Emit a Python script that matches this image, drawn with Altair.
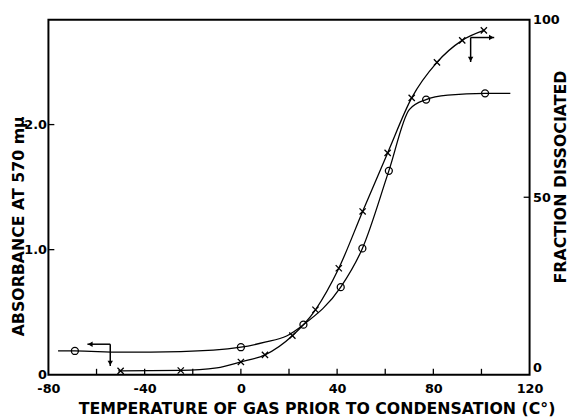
import altair as alt
import pandas as pd

# ---- data ----
circle_temp = [-69, 0, 26, 41.5, 50.5, 61.5, 77, 101.5]
circle_abs = [0.19, 0.22, 0.40, 0.70, 1.01, 1.63, 2.20, 2.25]

abs_curve_temp = [-76, -69, -50, -25, 0, 10, 19, 26, 41.5, 50.5, 61.5, 70, 77, 86, 101.5, 112]
abs_curve_val = [0.19, 0.19, 0.18, 0.185, 0.22, 0.26, 0.31, 0.40, 0.70, 1.01, 1.63, 2.12, 2.20, 2.235, 2.25, 2.25]

cross_temp = [-50, -25, 0, 10, 21.4, 31, 40.7, 50.6, 61, 71, 81.5, 92, 101]
cross_frac = [1.1, 1.2, 3.6, 5.6, 11, 18.3, 30, 46, 62.5, 78, 88, 94.2, 97]

frac_curve_temp = [-51, -50, -25, -10, 0, 10, 21.4, 31, 40.7, 50.6, 61, 71, 81.5, 92, 101]
frac_curve_val = [1.1, 1.1, 1.2, 1.9, 3.6, 5.6, 11, 18.3, 30, 46, 62.5, 78, 88, 94.2, 97]

# arrow indicators (segment start/end) and heads
abs_arrow_x = [-54.3, -54.3]
abs_arrow_y = [0.244, 0.244]
abs_arrow_x2 = [-63.8, -54.3]
abs_arrow_y2 = [0.244, 0.07]
abs_head_x = [-62.6, -54.3]
abs_head_y = [0.244, 0.094]
abs_head_shape = ["triangle-left", "triangle-down"]

frac_arrow_x = [95.5, 95.5]
frac_arrow_y = [95, 95]
frac_arrow_x2 = [105.3, 95.5]
frac_arrow_y2 = [95, 88.1]
frac_head_x = [104.1, 95.5]
frac_head_y = [95, 88.9]
frac_head_shape = ["triangle-right", "triangle-down"]

x_tick_vals = [-60, -40, -20, 0, 20, 40, 60, 80, 100]
x_label_vals = [-80, -40, 0, 40, 80, 120]
left_tick_vals = [1.0, 2.0]
left_label_vals = [0, 1, 2]
right_tick_vals = [50]
right_label_vals = [0, 50, 100]

FONT = "DejaVu Sans"

circ_df = pd.DataFrame({"t": circle_temp, "v": circle_abs})
abs_curve_df = pd.DataFrame({"t": abs_curve_temp, "v": abs_curve_val})
cross_df = pd.DataFrame({"t": cross_temp, "v": cross_frac})
frac_curve_df = pd.DataFrame({"t": frac_curve_temp, "v": frac_curve_val})
abs_arrow_df = pd.DataFrame({"t": abs_arrow_x, "v": abs_arrow_y, "t2": abs_arrow_x2, "v2": abs_arrow_y2})
abs_head_df = pd.DataFrame({"t": abs_head_x, "v": abs_head_y, "s": abs_head_shape})
frac_arrow_df = pd.DataFrame({"t": frac_arrow_x, "v": frac_arrow_y, "t2": frac_arrow_x2, "v2": frac_arrow_y2})
frac_head_df = pd.DataFrame({"t": frac_head_x, "v": frac_head_y, "s": frac_head_shape})
xtick_df = pd.DataFrame({"t": x_tick_vals})
ltick_df = pd.DataFrame({"v": left_tick_vals})
rtick_df = pd.DataFrame({"v": right_tick_vals})

xscale = alt.Scale(domain=[-80, 120], nice=False, zero=False)
lscale = alt.Scale(domain=[0, 2.838], nice=False, zero=False)
rscale = alt.Scale(domain=[0, 100], nice=False, zero=False)

x_axis = alt.Axis(
    values=x_label_vals,
    labelExpr="'' + datum.value",
    ticks=False, domain=False, grid=False,
    labelFont=FONT, labelFontSize=13, labelFontWeight="bold", labelColor="black",
    labelPadding=8, labelFlush=False, labelOverlap=False,
    title="TEMPERATURE OF GAS PRIOR TO CONDENSATION (C°)",
    titleFont=FONT, titleFontSize=16, titleFontWeight="bold", titleColor="black",
    titleX=272, titleY=39, titleAlign="center", titleBaseline="alphabetic",
)
l_axis = alt.Axis(
    values=left_label_vals,
    labelExpr="datum.value == 0 ? '0' : format(datum.value, '.1f')",
    ticks=False, domain=False, grid=False,
    labelFont=FONT, labelFontSize=13, labelFontWeight="bold", labelColor="black",
    labelPadding=2, labelFlush=False, labelOverlap=False,
    title="ABSORBANCE AT 570 mμ",
    titleFont=FONT, titleFontSize=16, titleFontWeight="bold", titleColor="black",
    titleAngle=270, titleX=-25, titleY=209, titleAlign="center", titleBaseline="alphabetic",
)
r_axis = alt.Axis(
    orient="right",
    values=right_label_vals,
    ticks=False, domain=False, grid=False,
    labelFont=FONT, labelFontSize=13, labelFontWeight="bold", labelColor="black",
    labelPadding=3, labelFlush=False, labelOverlap=False,
    labelBaseline={"condition": {"test": "datum.value == 0", "value": "bottom"}, "value": "middle"},
    title="FRACTION DISSOCIATED",
    titleFont=FONT, titleFontSize=16, titleFontWeight="bold", titleColor="black",
    titleAngle=270, titleX=36, titleY=159, titleAlign="center", titleBaseline="alphabetic",
)

# ---- left (absorbance) group ----
abs_line = alt.Chart(abs_curve_df).mark_line(interpolate="monotone", color="black", strokeWidth=1.3).encode(
    x=alt.X("t:Q", scale=xscale, axis=x_axis),
    y=alt.Y("v:Q", scale=lscale, axis=l_axis),
)
abs_pts = alt.Chart(circ_df).mark_point(shape="circle", filled=False, color="black", size=50, strokeWidth=1.3, opacity=1).encode(
    x="t:Q", y="v:Q"
)
abs_arrows = alt.Chart(abs_arrow_df).mark_rule(color="black", strokeWidth=1.5).encode(
    x="t:Q", y="v:Q", x2="t2:Q", y2="v2:Q"
)
abs_heads = alt.Chart(abs_head_df).mark_point(filled=True, color="black", size=30, opacity=1).encode(
    x="t:Q", y="v:Q",
    shape=alt.Shape("s:N", scale=None, legend=None),
)
x_ticks = alt.Chart(xtick_df).mark_rule(color="black", strokeWidth=1.3).encode(
    x="t:Q", y=alt.value(360), y2=alt.value(354)
)
l_ticks = alt.Chart(ltick_df).mark_rule(color="black", strokeWidth=1.3).encode(
    y="v:Q", x=alt.value(0), x2=alt.value(6)
)
left = alt.layer(abs_line, abs_pts, abs_arrows, abs_heads, x_ticks, l_ticks)

# ---- right (fraction) group ----
frac_line = alt.Chart(frac_curve_df).mark_line(interpolate="monotone", color="black", strokeWidth=1.3).encode(
    x="t:Q", y=alt.Y("v:Q", scale=rscale, axis=r_axis)
)
frac_pts = alt.Chart(cross_df).mark_point(
    shape="M-1,-1L1,1M-1,1L1,-1", filled=False, color="black", size=40, strokeWidth=1.3, opacity=1
).encode(x="t:Q", y="v:Q")
frac_arrows = alt.Chart(frac_arrow_df).mark_rule(color="black", strokeWidth=1.5).encode(
    x="t:Q", y="v:Q", x2="t2:Q", y2="v2:Q"
)
frac_heads = alt.Chart(frac_head_df).mark_point(filled=True, color="black", size=30, opacity=1).encode(
    x="t:Q", y="v:Q",
    shape=alt.Shape("s:N", scale=None, legend=None),
)
r_ticks = alt.Chart(rtick_df).mark_rule(color="black", strokeWidth=1.3).encode(
    y="v:Q", x=alt.value(482), x2=alt.value(488)
)
right = alt.layer(frac_line, frac_pts, frac_arrows, frac_heads, r_ticks)

chart = alt.layer(left, right).resolve_scale(y="independent").properties(
    width=488,
    height=360,
    autosize=alt.AutoSizeParams(type="none"),
    padding={"left": 41, "top": 9, "right": 41, "bottom": 45},
    background="white",
).configure_view(stroke="black", strokeWidth=2)

chart.save("out.html", embed_options={"renderer": "svg", "actions": False})
